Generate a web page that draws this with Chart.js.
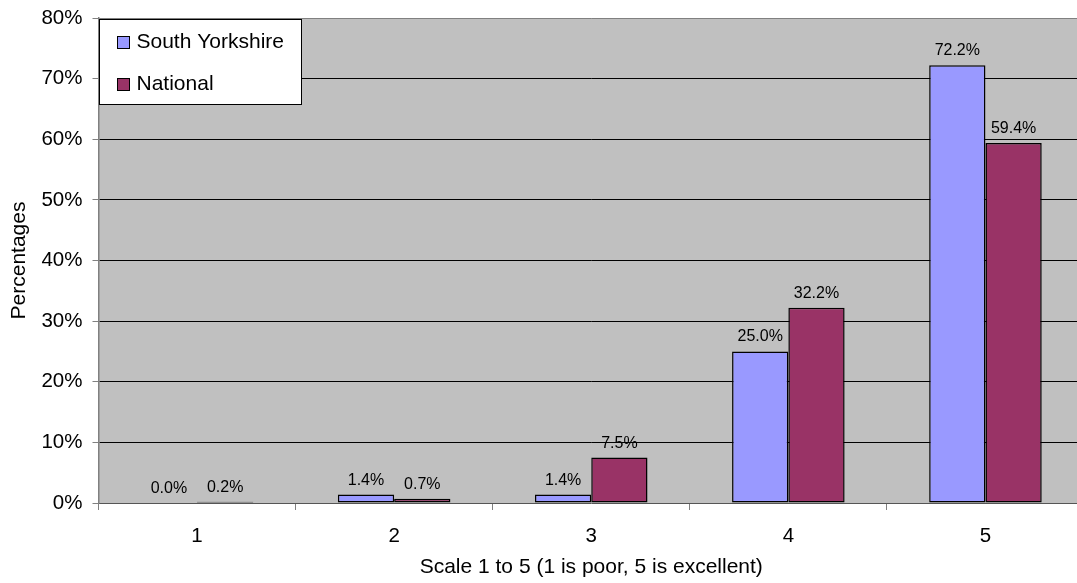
<!DOCTYPE html>
<html>
<head>
<meta charset="utf-8">
<script src="https://cdn.jsdelivr.net/npm/chart.js@4/dist/chart.umd.min.js"></script>
<style>
  html, body { margin: 0; padding: 0; background: #fff; overflow: hidden; }
  #wrap { width: 1084px; height: 583px; }
</style>
</head>
<body>
<div id="wrap"><canvas id="c" width="1084" height="583"></canvas></div>
<script>
// Survey ratings, scale 1 (poor) to 5 (excellent), in percent
const categories = ['1', '2', '3', '4', '5'];
const southYorkshire = [0.0, 1.4, 1.4, 25.0, 72.2];
const national = [0.2, 0.7, 7.5, 32.2, 59.4];
const seriesNames = ['South Yorkshire', 'National'];
const yTicks = [0, 10, 20, 30, 40, 50, 60, 70, 80];

const FONT = '"Liberation Sans", Arial, sans-serif';

// Grey plot background
const plotBackground = {
  id: 'plotBackground',
  beforeDraw(chart) {
    const { ctx, chartArea: a } = chart;
    ctx.save();
    ctx.fillStyle = '#C0C0C0';
    ctx.fillRect(a.left, a.top, a.right - a.left, a.bottom - a.top);
    ctx.restore();
  }
};

// Value labels above each bar
const valueLabels = {
  id: 'valueLabels',
  afterDatasetsDraw(chart) {
    const { ctx } = chart;
    ctx.save();
    ctx.font = '16px ' + FONT;
    ctx.fillStyle = '#000';
    ctx.textAlign = 'center';
    ctx.textBaseline = 'alphabetic';
    chart.data.datasets.forEach((ds, di) => {
      const meta = chart.getDatasetMeta(di);
      meta.data.forEach((bar, i) => {
        ctx.fillText(ds.data[i].toFixed(1) + '%', bar.x, bar.y - 10);
      });
    });
    ctx.restore();
  }
};

// Boxed legend in the upper-left corner of the plot
const boxLegend = {
  id: 'boxLegend',
  afterDraw(chart) {
    const { ctx, chartArea: a } = chart;
    const x = Math.round(a.left) + 0.5, y = Math.round(a.top) + 1.5;
    const w = 202, h = 85;
    ctx.save();
    ctx.fillStyle = '#fff';
    ctx.fillRect(x, y, w, h);
    ctx.strokeStyle = '#000';
    ctx.lineWidth = 1;
    ctx.strokeRect(x, y, w, h);
    ctx.font = '21px ' + FONT;
    ctx.textBaseline = 'middle';
    ctx.textAlign = 'left';
    chart.data.datasets.forEach((ds, i) => {
      const cy = y + 23 + i * 42;
      ctx.fillStyle = ds.backgroundColor;
      ctx.fillRect(x + 18, cy - 6, 12, 12);
      ctx.strokeStyle = '#000';
      ctx.strokeRect(x + 18, cy - 6, 12, 12);
      ctx.fillStyle = '#000';
      ctx.fillText(ds.label, x + 37, cy);
    });
    ctx.restore();
  }
};

new Chart(document.getElementById('c'), {
  type: 'bar',
  data: {
    labels: categories,
    datasets: [
      {
        label: seriesNames[0],
        data: southYorkshire,
        backgroundColor: '#9999FF',
        borderColor: '#000',
        borderWidth: 1.5,
        borderSkipped: false,
        categoryPercentage: 0.571,
        barPercentage: 1.0
      },
      {
        label: seriesNames[1],
        data: national,
        backgroundColor: '#993366',
        borderColor: '#000',
        borderWidth: 1.5,
        borderSkipped: false,
        categoryPercentage: 0.571,
        barPercentage: 1.0
      }
    ]
  },
  options: {
    responsive: false,
    animation: false,
    layout: { padding: { top: 18, right: 0, bottom: 0, left: 0 } },
    plugins: {
      legend: { display: false },
      tooltip: { enabled: false }
    },
    scales: {
      x: {
        offset: true,
        grid: {
          offset: true,
          drawOnChartArea: false,
          drawTicks: true,
          tickLength: 7,
          tickColor: '#808080'
        },
        border: { display: true, color: '#555', width: 1 },
        ticks: {
          color: '#000',
          font: { family: FONT, size: 20.5 },
          padding: 14,
          maxRotation: 0
        },
        title: {
          display: true,
          text: 'Scale 1 to 5 (1 is poor, 5 is excellent)',
          color: '#000',
          font: { family: FONT, size: 21 },
          padding: { top: 0, bottom: 3 }
        },
        afterFit(scale) {
          scale.height = 80;
          scale.paddingLeft = 0;
          scale.paddingRight = 0;
        }
      },
      y: {
        min: 0,
        max: 80,
        afterBuildTicks(scale) { scale.ticks = yTicks.map(v => ({ value: v })); },
        grid: {
          color: ctx => ctx.tick.value === 80 ? '#808080' : (ctx.tick.value === 0 ? 'rgba(0,0,0,0)' : '#000'),
          lineWidth: 1,
          tickLength: 6,
          tickColor: '#808080'
        },
        border: { display: true, color: '#808080', width: 1.5 },
        ticks: {
          color: '#000',
          font: { family: FONT, size: 20.5 },
          padding: 10,
          callback: v => v + '%'
        },
        title: {
          display: true,
          text: 'Percentages',
          color: '#000',
          font: { family: FONT, size: 21 },
          padding: { top: 7, bottom: 0 }
        },
        afterFit(scale) {
          scale.width = 98.5;
          scale.paddingTop = 0;
          scale.paddingBottom = 0;
        }
      }
    }
  },
  plugins: [plotBackground, valueLabels, boxLegend]
});
</script>
</body>
</html>
